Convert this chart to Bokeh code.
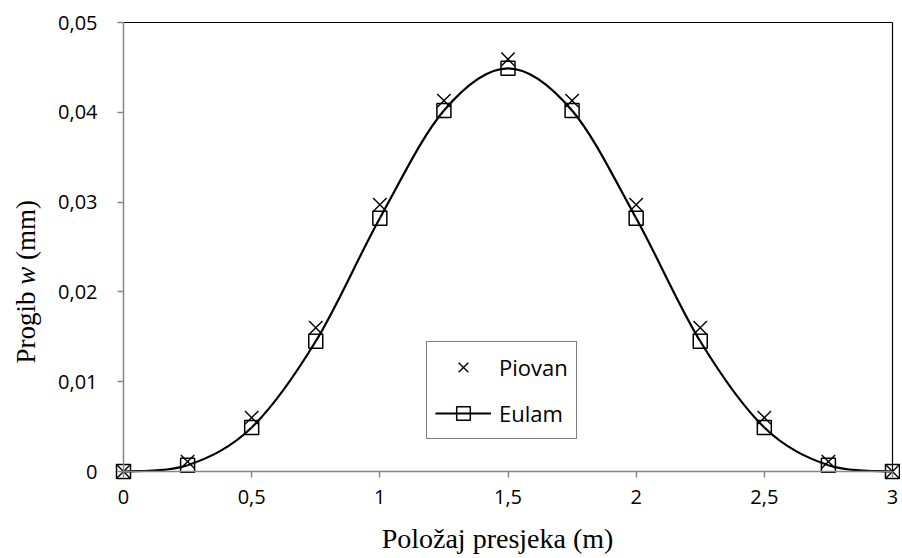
import math
from bokeh.plotting import figure
from bokeh.models import (Range1d, FixedTicker, Legend, LegendItem, Label)
from bokeh.embed import file_html
from bokeh.resources import INLINE

# ---- data ----
positions = [0.0, 0.25, 0.5, 0.75, 1.0, 1.25, 1.5, 1.75, 2.0, 2.25, 2.5, 2.75, 3.0]
piovan = [0.0, 0.0011, 0.0060, 0.0160, 0.0297, 0.0413, 0.0459, 0.0413, 0.0297, 0.0160, 0.0060, 0.0011, 0.0]
eulam = [0.0, 0.0007, 0.0049, 0.0145, 0.0282, 0.0402, 0.0449, 0.0402, 0.0282, 0.0145, 0.0049, 0.0007, 0.0]

x_ticks = [0, 0.5, 1, 1.5, 2, 2.5, 3]
x_tick_labels = ["0", "0,5", "1", "1,5", "2", "2,5", "3"]
y_ticks = [0, 0.01, 0.02, 0.03, 0.04, 0.05]
y_tick_labels = ["0", "0,01", "0,02", "0,03", "0,04", "0,05"]

x_title = "Položaj presjeka (m)"
y_title_parts = ["Progib", "w", "(mm)"]

AXIS_GRAY = "#868686"
TICK_FONT = "Open Sans"
TITLE_FONT = "Liberation Serif"

# layout (pixels on the canvas)
W, H = 900, 556
LEFT, RIGHT, TOP, BOTTOM = 123, 892, 22, 471
xmin, xmax = x_ticks[0], x_ticks[-1]
ymin, ymax = y_ticks[0], y_ticks[-1]
px_x = (xmax - xmin) / (RIGHT - LEFT)   # data units per pixel
px_y = (ymax - ymin) / (BOTTOM - TOP)

p = figure(width=W, height=H, output_backend="svg", toolbar_location=None,
           x_range=Range1d(xmin - LEFT * px_x, xmax + (W - RIGHT) * px_x),
           y_range=Range1d(ymin - (H - BOTTOM) * px_y, ymax + TOP * px_y),
           min_border=0)
p.grid.visible = False
p.outline_line_color = None
p.background_fill_color = "white"
p.border_fill_color = "white"

for ax in (p.xaxis[0], p.yaxis[0]):
    ax.fixed_location = 0
    ax.axis_line_color = AXIS_GRAY
    ax.axis_line_width = 1.5
    ax.major_tick_line_color = AXIS_GRAY
    ax.major_tick_line_width = 1.5
    ax.major_tick_in = 0
    ax.major_tick_out = 6
    ax.minor_tick_line_color = None
    ax.major_label_text_font = TICK_FONT
    ax.major_label_text_font_size = "20px"
    ax.major_label_text_color = "black"

p.xaxis[0].bounds = (xmin, xmax)
p.xaxis[0].ticker = FixedTicker(ticks=x_ticks)
p.xaxis[0].major_label_overrides = {t: l for t, l in zip(x_ticks, x_tick_labels)}
p.xaxis[0].major_label_standoff = 12

p.yaxis[0].bounds = (ymin, ymax)
p.yaxis[0].ticker = FixedTicker(ticks=y_ticks)
p.yaxis[0].major_label_overrides = {t: l for t, l in zip(y_ticks, y_tick_labels)}
p.yaxis[0].major_label_standoff = 20

# top and right frame borders (black)
p.segment(x0=[xmin, xmax], y0=[ymax, ymin], x1=[xmax, xmax], y1=[ymax, ymax],
          line_color="black", line_width=1.2)

# smooth (Catmull-Rom -> Bezier) curve through Eulam points
n = len(positions)
x0, y0, x1, y1, cx0, cy0, cx1, cy1 = [], [], [], [], [], [], [], []
for i in range(n - 1):
    pa = (positions[max(i - 1, 0)], eulam[max(i - 1, 0)])
    pb = (positions[i], eulam[i])
    pc = (positions[i + 1], eulam[i + 1])
    pd = (positions[min(i + 2, n - 1)], eulam[min(i + 2, n - 1)])
    x0.append(pb[0]); y0.append(pb[1]); x1.append(pc[0]); y1.append(pc[1])
    cx0.append(pb[0] + (pc[0] - pa[0]) / 6); cy0.append(pb[1] + (pc[1] - pa[1]) / 6)
    cx1.append(pc[0] - (pd[0] - pb[0]) / 6); cy1.append(pc[1] - (pd[1] - pb[1]) / 6)
curve = p.bezier(x0=x0, y0=y0, x1=x1, y1=y1, cx0=cx0, cy0=cy0, cx1=cx1, cy1=cy1,
                 line_color="black", line_width=2.2)

sq = p.scatter(positions, eulam, marker="square", size=14, fill_color=None,
               line_color="black", line_width=1.5)
xm = p.scatter(positions, piovan, marker="x", size=19, line_color="black", line_width=1.4)

legend = Legend(items=[LegendItem(label="Piovan", renderers=[xm]),
                       LegendItem(label="Eulam", renderers=[curve, sq])],
                location=(426, H - 439), orientation="vertical",
                border_line_color="black", border_line_width=1.2,
                background_fill_color="white", background_fill_alpha=1,
                label_text_font=TICK_FONT, label_text_font_size="22px",
                label_text_color="black",
                glyph_width=56, glyph_height=34, label_height=20,
                label_standoff=8, padding=8, spacing=12, margin=0)
p.add_layout(legend, "center")

# x-axis title
p.add_layout(Label(x=xmin + (497 - LEFT) * px_x, y=ymin - (538 - BOTTOM) * px_y, text=x_title,
                   text_align="center", text_baseline="middle",
                   text_font=TITLE_FONT, text_font_size="28px", text_font_style="normal",
                   text_color="black"))

# y-axis title with italic w (rotated, reading upwards)
em = 27
space = 0.25
widths = [0.556 + 0.333 + 0.5 + 0.5 + 0.278 + 0.5 + space, 0.667 + space, 0]
styles = ["normal", "italic", "normal"]
y_start = ymin + (BOTTOM - 363) * px_y
for part, w, st in zip(y_title_parts, widths, styles):
    p.add_layout(Label(x=xmin + (25 - LEFT) * px_x, y=y_start, text=part,
                       angle=math.pi / 2, text_align="left", text_baseline="middle",
                       text_font=TITLE_FONT, text_font_size=f"{em}px", text_font_style=st,
                       text_color="black"))
    y_start += w * em * px_y

open("out.html", "w").write(file_html(p, INLINE))
